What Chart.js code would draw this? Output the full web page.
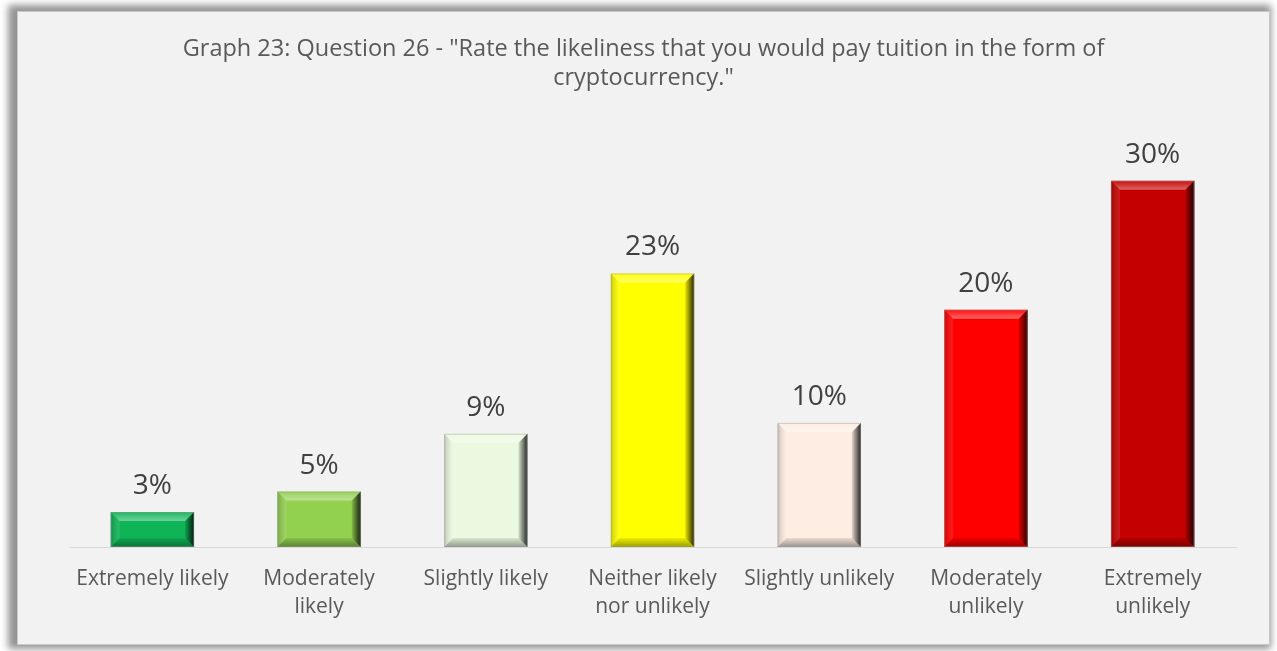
<!DOCTYPE html>
<html lang="en">
<head>
<meta charset="UTF-8">
<title>Graph 23</title>
<script src="https://cdn.jsdelivr.net/npm/chart.js@4.4.1/dist/chart.umd.min.js"></script>
<style>
    html, body { margin: 0; padding: 0; background: #ffffff; }
    .frame {
        position: absolute;
        left: 17px; top: 11px;
        width: 1253px; height: 634px;
        background: #f2f2f2;
        border: 1px solid #c8c8c8;
        box-sizing: border-box;
        box-shadow: -4px -1px 7px 5px rgba(0, 0, 0, 0.42);
    }
</style>
</head>
<body>
<div class="frame">
    <canvas id="likelinessChart"></canvas>
</div>

<script>
    const titleLines = ['Graph 23: Question 26 - "Rate the likeliness that you would pay tuition in the form of', 'cryptocurrency."'];
    const answers = ['Extremely likely', ['Moderately', 'likely'], 'Slightly likely', ['Neither likely', 'nor unlikely'], 'Slightly unlikely', ['Moderately', 'unlikely'], ['Extremely', 'unlikely']];
    const shares = [2.9, 4.6, 9.4, 22.7, 10.3, 19.7, 30.4];
    const barColors = ['#0fb457', '#92d050', '#ebf9e1', '#ffff00', '#fdede3', '#ff0000', '#c50000'];

    // percentage label above each bar
    const valueLabels = {
        id: 'valueLabels',
        afterDatasetsDraw(chart) {
            const ctx = chart.ctx;
            const meta = chart.getDatasetMeta(0);
            ctx.save();
            ctx.font = '28px "Open Sans"';
            ctx.fillStyle = '#404040';
            ctx.textAlign = 'center';
            ctx.textBaseline = 'alphabetic';
            meta.data.forEach((bar, i) => {
                const v = chart.data.datasets[0].data[i];
                ctx.fillText(Math.round(v) + '%', bar.x, bar.y - 18);
            });
            ctx.restore();
        }
    };

    // bevelled look on the bars: light top, dark right / bottom edges
    const bevel = {
        id: 'bevel',
        afterDatasetDraw(chart) {
            const ctx = chart.ctx;
            const meta = chart.getDatasetMeta(0);
            ctx.save();
            meta.data.forEach(bar => {
                const x0 = bar.x - bar.width / 2, x1 = bar.x + bar.width / 2;
                const y0 = bar.y, y1 = bar.base;
                const b = Math.min(9, (y1 - y0) / 2);
                let g;

                // top
                g = ctx.createLinearGradient(0, y0, 0, y0 + b);
                g.addColorStop(0, 'rgba(255,255,255,0.05)');
                g.addColorStop(1, 'rgba(255,255,255,0.4)');
                ctx.fillStyle = g;
                ctx.beginPath();
                ctx.moveTo(x0, y0); ctx.lineTo(x1, y0); ctx.lineTo(x1 - b, y0 + b); ctx.lineTo(x0 + b, y0 + b);
                ctx.closePath(); ctx.fill();

                // left
                g = ctx.createLinearGradient(x0, 0, x0 + b, 0);
                g.addColorStop(0, 'rgba(0,0,0,0.2)');
                g.addColorStop(1, 'rgba(255,255,255,0.1)');
                ctx.fillStyle = g;
                ctx.beginPath();
                ctx.moveTo(x0, y0); ctx.lineTo(x0 + b, y0 + b); ctx.lineTo(x0 + b, y1 - b); ctx.lineTo(x0, y1);
                ctx.closePath(); ctx.fill();

                // bottom
                g = ctx.createLinearGradient(0, y1 - b, 0, y1);
                g.addColorStop(0, 'rgba(0,0,0,0.08)');
                g.addColorStop(1, 'rgba(0,0,0,0.38)');
                ctx.fillStyle = g;
                ctx.beginPath();
                ctx.moveTo(x0, y1); ctx.lineTo(x1, y1); ctx.lineTo(x1 - b, y1 - b); ctx.lineTo(x0 + b, y1 - b);
                ctx.closePath(); ctx.fill();

                // right
                g = ctx.createLinearGradient(x1 - b, 0, x1, 0);
                g.addColorStop(0, 'rgba(0,0,0,0.1)');
                g.addColorStop(1, 'rgba(0,0,0,0.85)');
                ctx.fillStyle = g;
                ctx.beginPath();
                ctx.moveTo(x1, y0); ctx.lineTo(x1, y1); ctx.lineTo(x1 - b, y1 - b); ctx.lineTo(x1 - b, y0 + b);
                ctx.closePath(); ctx.fill();

                ctx.strokeStyle = 'rgba(150,150,150,0.45)';
                ctx.lineWidth = 1;
                ctx.strokeRect(x0 + 0.5, y0 + 0.5, x1 - x0 - 1, y1 - y0 - 1);
            });
            ctx.restore();
        }
    };

    new Chart(document.getElementById('likelinessChart'), {
        type: 'bar',
        data: {
            labels: answers,
            datasets: [{
                data: shares,
                backgroundColor: barColors,
                borderWidth: 0,
                barPercentage: 0.5,
                categoryPercentage: 1
            }]
        },
        options: {
            responsive: true,
            maintainAspectRatio: false,
            animation: false,
            layout: { padding: { left: 33, right: 33, top: 0, bottom: 0 } },
            plugins: {
                legend: { display: false },
                tooltip: { enabled: false },
                title: {
                    display: true,
                    text: titleLines,
                    color: '#595959',
                    font: { family: 'Open Sans', size: 23.5, weight: 'normal', lineHeight: 1.24 },
                    padding: { top: 23, bottom: 32 }
                }
            },
            scales: {
                x: {
                    grid: { display: false, drawTicks: false },
                    border: { display: true, color: '#d9d9d9', width: 1 },
                    ticks: {
                        color: '#595959',
                        font: { family: 'Open Sans', size: 21, lineHeight: 1.33 },
                        padding: 18,
                        maxRotation: 0,
                        autoSkip: false
                    },
                    afterFit(scale) { scale.height = 97; }
                },
                y: {
                    min: 0,
                    max: 35,
                    grid: { display: false, drawTicks: false },
                    border: { display: false },
                    ticks: { display: false },
                    // empty gutter on the left, keeps the title centred on the frame
                    afterFit(scale) { scale.width = 18; }
                }
            }
        },
        plugins: [bevel, valueLabels]
    });
</script>
</body>
</html>
